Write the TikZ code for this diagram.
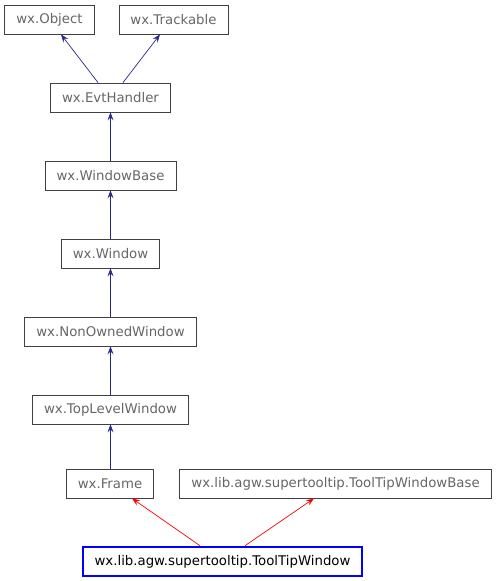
\documentclass[tikz,border=0pt]{standalone}
\usepackage{fontspec}
\setmainfont{DejaVu Sans}
\definecolor{edgeblue}{RGB}{40, 40, 140}
\definecolor{edgered}{RGB}{255, 0, 0}
\definecolor{labelgray}{RGB}{102, 102, 102}
\definecolor{framegray}{RGB}{64, 64, 64}
\usetikzlibrary{arrows.meta}

\begin{document}
\begin{tikzpicture}[x=1pt, y=-1pt,
    cls/.style={draw=framegray, line width=0.8pt, text=labelgray, font=\fontsize{13.3}{15}\selectfont,
                inner xsep=11.5pt, minimum height=29pt, anchor=center},
    focus/.style={cls, draw=blue, line width=2.6pt, text=black},
    inherit/.style={draw=#1, line width=0.7pt, -{Stealth[length=8pt, width=6pt, inset=3pt]}}
]
    \useasboundingbox (0,0) rectangle (499,581);

    \node[cls] (obj) at (49.5,19.5) {wx.Object};
    \node[cls] (track) at (173.5,19.5) {wx.Trackable};
    \node[cls] (evt) at (110.5,97.5) {wx.EvtHandler};
    \node[cls] (winbase) at (110.5,175.5) {wx.WindowBase};
    \node[cls] (win) at (110.5,253.5) {wx.Window};
    \node[cls] (nonowned) at (110.5,331.5) {wx.NonOwnedWindow};
    \node[cls] (toplevel) at (110.5,409.5) {wx.TopLevelWindow};
    \node[cls] (frame) at (110,483.5) {wx.Frame};
    \node[cls] (tipbase) at (335.5,483.5) {wx.lib.agw.supertooltip.ToolTipWindowBase};
    \node[focus] (tip) at (222.5,561.5) {wx.lib.agw.supertooltip.ToolTipWindow};

    \draw[inherit=edgeblue] ([xshift=-12.5pt]evt.north) -- ([xshift=11.5pt]obj.south);
    \draw[inherit=edgeblue] ([xshift=12.5pt]evt.north) -- ([xshift=-13.5pt]track.south);
    \draw[inherit=edgeblue] (winbase) -- (evt);
    \draw[inherit=edgeblue] (win) -- (winbase);
    \draw[inherit=edgeblue] (nonowned) -- (win);
    \draw[inherit=edgeblue] (toplevel) -- (nonowned);
    \draw[inherit=edgeblue] (frame.north -| toplevel.south) -- (toplevel);
    \draw[inherit=edgered] ([xshift=-22.5pt]tip.north) -- ([xshift=22pt]frame.south);
    \draw[inherit=edgered] ([xshift=22.5pt]tip.north) -- ([xshift=-21.5pt]tipbase.south);
\end{tikzpicture}
\end{document}
